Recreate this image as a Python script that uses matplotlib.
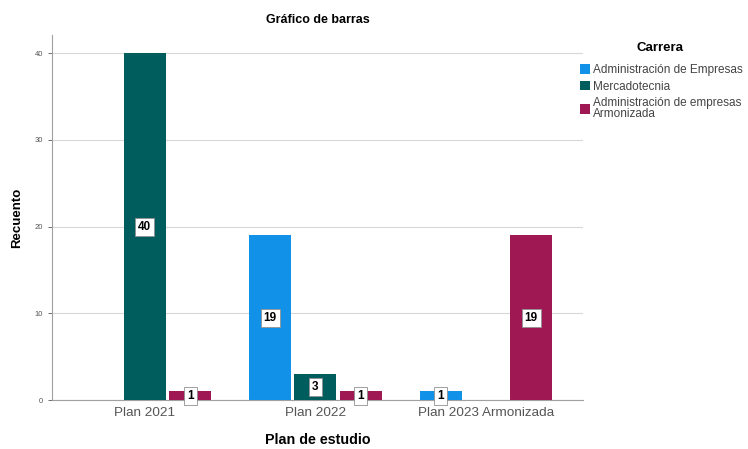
import matplotlib.pyplot as plt
import numpy as np

plt.rcParams["font.family"] = ["Liberation Sans", "DejaVu Sans"]

# Recuento por plan de estudio y carrera
planes = ["Plan 2021", "Plan 2022", "Plan 2023 Armonizada"]
carreras = ["Administración de Empresas", "Mercadotecnia",
            "Administración de empresas\nArmonizada"]
recuento = [
    [0, 19, 1],   # Administración de Empresas
    [40, 3, 0],   # Mercadotecnia
    [1, 1, 19],   # Administración de empresas Armonizada
]
colores = ["#1192e8", "#005d5d", "#9f1853"]

fig = plt.figure(figsize=(7.48, 4.49), dpi=100)
ax = fig.add_axes([0.0695, 0.109, 0.71, 0.813])

x = np.arange(len(planes))
width = 0.246
offsets = [-width - 0.02, 0, width + 0.02]

for serie, nombre, color, off in zip(recuento, carreras, colores, offsets):
    bars = ax.bar(x + off, serie, width, color=color, linewidth=0,
                  label=nombre, zorder=3)
    for b, v in zip(bars, serie):
        if v == 0:
            continue
        ax.text(b.get_x() + b.get_width() / 2, v / 2, str(v), ha="center",
                va="center", fontsize=8.5, fontweight="bold", zorder=4,
                bbox=dict(boxstyle="square,pad=0.25", fc="white", ec="#909090", lw=0.6))

ax.set_xlim(-0.545, 2.57)
ax.set_ylim(0, 42.1)
ax.set_yticks([0, 10, 20, 30, 40])
ax.set_xticks(x)
ax.set_xticklabels(planes, fontsize=9.7, color="#555555")
ax.tick_params(axis="y", labelsize=5.5, colors="#555555", length=3, width=0.6)
ax.tick_params(axis="x", length=0, pad=5)
ax.grid(axis="y", color="#d8d8d8", lw=0.8, zorder=0)
for s in ["top", "right"]:
    ax.spines[s].set_visible(False)
for s in ["left", "bottom"]:
    ax.spines[s].set_color("#a0a0a0")
    ax.spines[s].set_linewidth(0.8)

ax.set_ylabel("Recuento", fontsize=9.5, fontweight="bold", labelpad=8)
ax.set_xlabel("Plan de estudio", fontsize=10.3, fontweight="bold", labelpad=10)
fig.text(0.425, 0.955, "Gráfico de barras", ha="center", va="center",
         fontsize=9, fontweight="bold")

# leyenda: título aparte para dejar el hueco bajo "Carrera"
fig.text(660 / 748, 1 - 48 / 449, "Carrera", ha="center", va="center",
         fontsize=9.5, fontweight="bold")
leg = fig.legend(*ax.get_legend_handles_labels(), loc="upper left",
                 bbox_to_anchor=(580 / 748, 1 - 64 / 449), frameon=False,
                 fontsize=8.5, handlelength=0.85, handleheight=0.85,
                 handletextpad=0.25, labelspacing=0.4, borderaxespad=0.0,
                 borderpad=0.0)
for t in leg.get_texts():
    t.set_color("#444444")
    t.set_linespacing(0.85)

fig.savefig("out.png", dpi=100)
